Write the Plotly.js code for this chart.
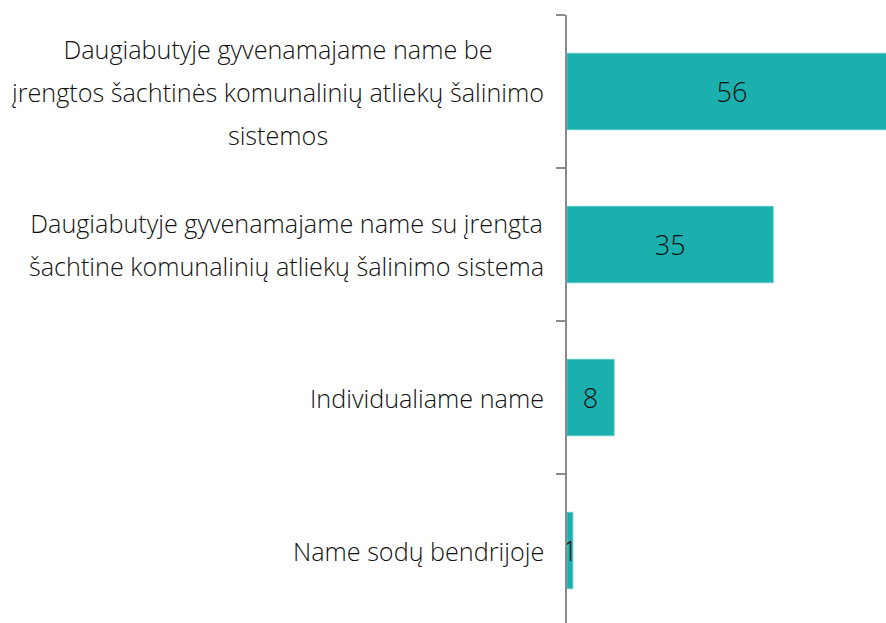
<!DOCTYPE html>
<html>
<head>
<meta charset="utf-8">
<script src="https://cdn.plot.ly/plotly-3.0.1.min.js"></script>
<style>
html,body{margin:0;padding:0;overflow:hidden;background:#fff;width:886px;height:623px;}
#chart{width:897px;height:627px;}
</style>
</head>
<body>
<div id="chart"></div>
<script>
const categories = [
  "Daugiabutyje gyvenamajame name be<br>įrengtos šachtinės komunalinių atliekų šalinimo<br>sistemos",
  "Daugiabutyje gyvenamajame name su įrengta<br>šachtine komunalinių atliekų šalinimo sistema",
  "Individualiame name",
  "Name sodų bendrijoje"
];
const values = [56, 35, 8, 1];
const valueLabels = ["56", "35", "8", "1"];

const FONT = "Open Sans, Noto Sans, sans-serif";
const labelSize = 25.2;
const lineGap = 43;

const trace = {
  type: "bar",
  orientation: "h",
  y: categories.map((c, i) => i),
  x: values,
  text: valueLabels,
  textposition: "inside",
  insidetextanchor: "middle",
  constraintext: "none",
  textfont: {family: FONT, size: 27, color: "#111", weight: 300},
  marker: {color: "#1bb0ae", line: {color: "#5fc9c7", width: 0.8}},
  width: 0.5,
  hoverinfo: "skip"
};

const annotations = categories.map((c, i) => ({
  xref: "paper", yref: "y",
  x: 0, y: i,
  xanchor: "right", yanchor: "middle",
  xshift: -21,
  align: "center",
  showarrow: false,
  text: c.split("<br>").map(s => '<span style="font-size:' + labelSize + 'px">' + s + '</span>').join("<br>"),
  font: {family: FONT, size: lineGap / 1.3, color: "#111", weight: 300}
}));

const layout = {
  width: 897, height: 627,
  margin: {l: 567, r: 0, t: 15, b: 0, pad: 0},
  paper_bgcolor: "#fff", plot_bgcolor: "#fff",
  showlegend: false,
  xaxis: {range: [0, 56], visible: false, fixedrange: true},
  yaxis: {
    type: "linear",
    range: [3.5, -0.5],
    showline: true, linecolor: "#8a8a8a", linewidth: 2,
    tickmode: "array",
    tickvals: [-0.5, 0.5, 1.5, 2.5, 3.5],
    ticktext: ["", "", "", "", ""],
    ticks: "outside", ticklen: 9, tickwidth: 2, tickcolor: "#8a8a8a",
    showgrid: false, zeroline: false, showticklabels: false, fixedrange: true
  },
  annotations: annotations
};

Plotly.newPlot("chart", [trace], layout, {displayModeBar: false, staticPlot: true});
</script>
</body>
</html>
